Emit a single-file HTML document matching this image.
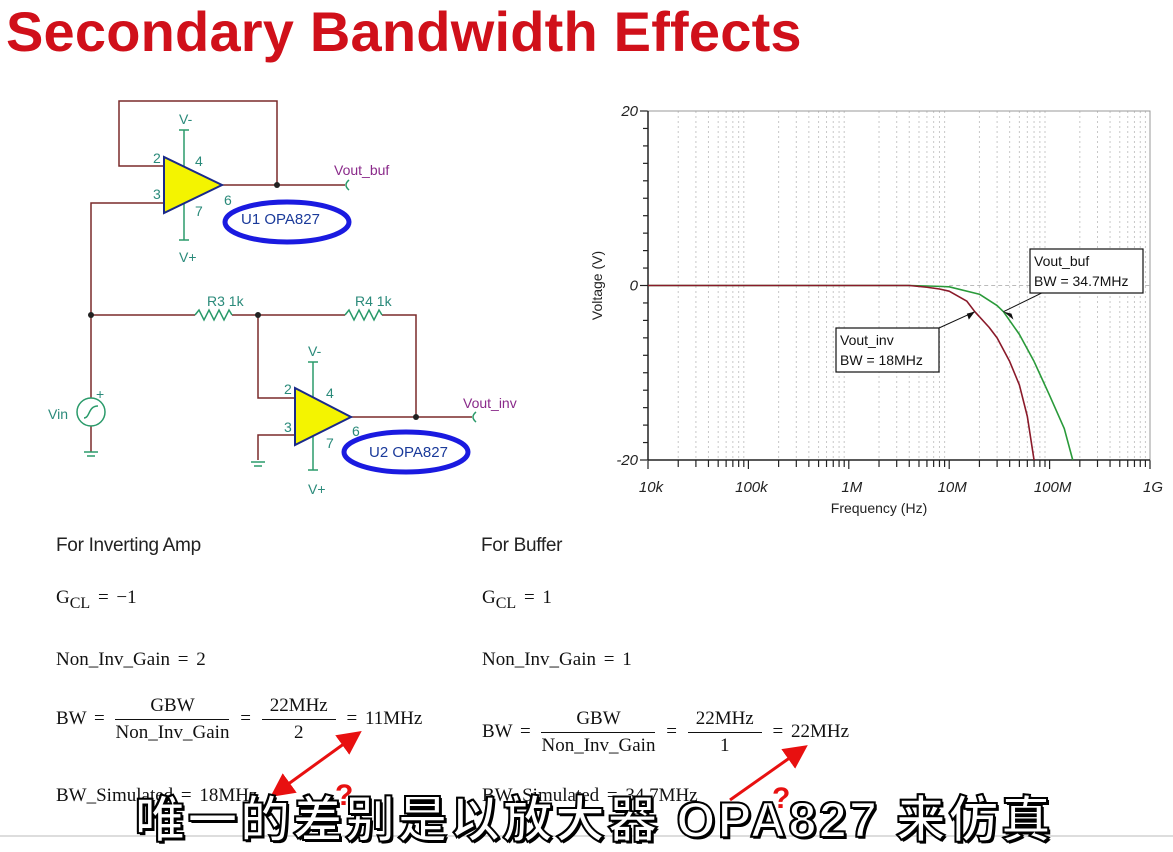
<!DOCTYPE html>
<html><head><meta charset="utf-8"><style>
body{margin:0;width:1173px;height:845px;background:#fff;overflow:hidden;position:relative;font-family:"Liberation Sans",sans-serif}
.a{position:absolute;white-space:nowrap}
.s{font-family:"Liberation Serif",serif;font-size:19px;color:#111;word-spacing:3px}
.fr{display:inline-block;vertical-align:middle;text-align:center;margin:0 3px}
.fr .n{border-bottom:1.5px solid #111;padding:0 8px 2px}
.fr .d{padding-top:2px}
</style></head><body>
<div class="a" style="left:6px;top:-1px;font-size:56px;font-weight:bold;color:#d0101a;letter-spacing:0.2px">Secondary Bandwidth Effects</div>

<svg class="a" style="left:0;top:0" width="590" height="520">
<g stroke="#7a2a2a" stroke-width="1.5" fill="none">
<polyline points="164,166 119,166 119,101 277,101 277,185"/>
<line x1="222" y1="185" x2="345" y2="185"/>
<polyline points="164,203 91,203 91,398"/>
<line x1="91" y1="426" x2="91" y2="452"/>
<line x1="91" y1="315" x2="195" y2="315"/>
<line x1="232" y1="315" x2="345" y2="315"/>
<polyline points="382,315 416,315 416,417"/>
<polyline points="258,315 258,398 295,398"/>
<polyline points="295,435 258,435 258,460"/>
<line x1="351" y1="417" x2="472" y2="417"/>
</g>
<g stroke="#2a9a6a" stroke-width="1.5" fill="none">
<line x1="184" y1="130" x2="184" y2="240"/><line x1="179" y1="130" x2="189" y2="130"/><line x1="179" y1="240" x2="189" y2="240"/>
<line x1="313" y1="362" x2="313" y2="470"/><line x1="308" y1="362" x2="318" y2="362"/><line x1="308" y1="470" x2="318" y2="470"/>
<polyline points="195,315 199,310 204,320 209,310 214,320 219,310 224,320 229,310 232,315"/>
<polyline points="345,315 349,310 354,320 359,310 364,320 369,310 374,320 379,310 382,315"/>
<line x1="84" y1="452" x2="98" y2="452"/><line x1="87" y1="456" x2="95" y2="456"/>
<line x1="251" y1="462" x2="265" y2="462"/><line x1="254" y1="466" x2="262" y2="466"/>
<circle cx="91" cy="412" r="14"/><path d="M84,418 C90,418 88,406 98,406"/>
<path d="M349,180 Q343,185 349,190"/><path d="M476,412 Q470,417 476,422"/>
</g>
<polygon points="164,157 164,213 222,185" fill="#f4f400" stroke="#1a2a8a" stroke-width="2"/>
<polygon points="295,388 295,445 351,417" fill="#f4f400" stroke="#1a2a8a" stroke-width="2"/>
<circle cx="277" cy="185" r="3" fill="#222"/><circle cx="91" cy="315" r="3" fill="#222"/><circle cx="258" cy="315" r="3" fill="#222"/><circle cx="416" cy="417" r="3" fill="#222"/>
<ellipse cx="287" cy="222" rx="62" ry="20" fill="none" stroke="#1a1ae0" stroke-width="5"/>
<ellipse cx="406" cy="452" rx="62" ry="20" fill="none" stroke="#1a1ae0" stroke-width="5"/>
<g font-family="Liberation Sans" font-size="14" fill="#2a8a7a">
<text x="179" y="124">V-</text><text x="179" y="262">V+</text><text x="153" y="163">2</text><text x="195" y="166">4</text><text x="153" y="199">3</text><text x="195" y="216">7</text><text x="224" y="205">6</text>
<text x="308" y="356">V-</text><text x="308" y="494">V+</text><text x="284" y="394">2</text><text x="326" y="398">4</text><text x="284" y="432">3</text><text x="326" y="448">7</text><text x="352" y="436">6</text>
<text x="207" y="306">R3 1k</text><text x="355" y="306">R4 1k</text><text x="48" y="419">Vin</text><text x="96" y="399">+</text>
<text x="241" y="224" fill="#1a3a9a" font-size="15">U1 OPA827</text><text x="369" y="457" fill="#1a3a9a" font-size="15">U2 OPA827</text>
</g>
<text x="334" y="175" font-family="Liberation Sans" font-size="14" fill="#8a2a8a">Vout_buf</text>
<text x="463" y="408" font-family="Liberation Sans" font-size="14" fill="#8a2a8a">Vout_inv</text>
</svg>

<svg id="chart" class="a" style="left:0;top:0" width="1173" height="530"></svg>

<div class="a" style="left:56px;top:535px;font-size:19px;color:#222;letter-spacing:-0.3px">For Inverting Amp</div>
<div class="a" style="left:481px;top:535px;font-size:19px;color:#222;letter-spacing:-0.3px">For Buffer</div>
<div class="a s" style="left:56px;top:587px">G<sub style="font-size:16px">CL</sub> = −1</div>
<div class="a s" style="left:482px;top:587px">G<sub style="font-size:16px">CL</sub> = 1</div>
<div class="a s" style="left:56px;top:649px">Non_Inv_Gain = 2</div>
<div class="a s" style="left:482px;top:649px">Non_Inv_Gain = 1</div>
<div class="a s" style="left:56px;top:695px">BW = <span class="fr"><div class="n">GBW</div><div class="d">Non_Inv_Gain</div></span> = <span class="fr"><div class="n">22MHz</div><div class="d">2</div></span> = 11MHz</div>
<div class="a s" style="left:482px;top:708px">BW = <span class="fr"><div class="n">GBW</div><div class="d">Non_Inv_Gain</div></span> = <span class="fr"><div class="n">22MHz</div><div class="d">1</div></span> = 22MHz</div>
<div class="a s" style="left:56px;top:785px">BW_Simulated = 18MHz</div>
<div class="a s" style="left:482px;top:785px">BW_Simulated = 34.7MHz</div>
<svg class="a" style="left:0;top:0" width="1173" height="845">
<defs><marker id="ah" markerWidth="8" markerHeight="8" refX="4" refY="4" orient="auto-start-reverse"><path d="M0,0 L8,4 L0,8z" fill="#e81010"/></marker></defs>
<line x1="352" y1="738" x2="280" y2="790" stroke="#e81010" stroke-width="3" marker-start="url(#ah)" marker-end="url(#ah)"/>
<line x1="798" y1="752" x2="730" y2="800" stroke="#e81010" stroke-width="3" marker-start="url(#ah)"/>
<text x="335" y="805" font-size="30" font-weight="bold" fill="#e81010" font-family="Liberation Sans">?</text>
<text x="772" y="808" font-size="30" font-weight="bold" fill="#e81010" font-family="Liberation Sans">?</text>
<line x1="0" y1="836" x2="1173" y2="836" stroke="#bbb" stroke-width="1"/>
</svg>
<div class="a" style="left:135px;top:780px;font-family:'Liberation Sans','Noto Sans CJK SC',sans-serif;font-size:50px;font-weight:bold;letter-spacing:2.5px;color:#fff;-webkit-text-stroke:2px #000;text-shadow:2px 2px 0 #000,-1px -1px 0 #000">唯一的差别是以放大器 OPA827 来仿真</div>

<script>
const freqInv=[1e4,1e6,4e6,6e6,8e6,1e7,1.5e7,1.8e7,2.5e7,3e7,4e7,5e7,6e7,7e7];
const vInv=[0,0,0,-0.2,-0.4,-0.65,-1.8,-3,-4.8,-6,-8.7,-11.4,-15,-20];
const freqBuf=[1e4,1e6,4e6,8e6,1e7,2e7,3e7,3.47e7,5e7,7e7,1e8,1.4e8,1.7e8];
const vBuf=[0,0,0,-0.1,-0.15,-1,-2.3,-3,-5.6,-8.7,-12.6,-16.4,-20];
const xTicks=["10k","100k","1M","10M","100M","1G"];
const yTicks=[20,0,-20];
const svg=document.getElementById('chart');const NS='http://www.w3.org/2000/svg';
const L=648,R=1150,T=111,B=460;
const x=f=>L+(Math.log10(f)-4)/5*(R-L);
const y=v=>T+(20-v)/40*(B-T);
function el(t,a,p){const e=document.createElementNS(NS,t);for(const k in a)e.setAttribute(k,a[k]);(p||svg).appendChild(e);return e;}
const grid=el('g',{stroke:'#c8c8c8','stroke-width':1,'stroke-dasharray':'2,3'});


const ticks=el('g',{stroke:'#222','stroke-width':1.2});
for(let d=4;d<9;d++)for(let m=1;m<10;m++){const f=m*Math.pow(10,d);const xx=x(f);
 if(m>1)el('line',{x1:xx,y1:T,x2:xx,y2:B},grid);
 el('line',{x1:xx,y1:B,x2:xx,y2:B+(m==1?9:7)},ticks);}
el('line',{x1:R,y1:B,x2:R,y2:B+9},ticks);
el('line',{x1:x(1e7),y1:y(0),x2:R,y2:y(0),stroke:'#bbb','stroke-dasharray':'4,3'});
for(let v=-20;v<=20;v+=2)el('line',{x1:L-(v%20==0?8:5),y1:y(v),x2:L,y2:y(v)},ticks);
el('rect',{x:L,y:T,width:R-L,height:B-T,fill:'none',stroke:'#999'});
el('line',{x1:L,y1:T,x2:L,y2:B,stroke:'#222','stroke-width':1.5});
el('line',{x1:L,y1:B,x2:R,y2:B,stroke:'#222','stroke-width':1.5});
xTicks.forEach((t,i)=>{const e=el('text',{x:x(Math.pow(10,4+i))+3,y:B+32,'text-anchor':'middle','font-size':15,'font-style':'italic',fill:'#222','font-family':'Liberation Sans'});e.textContent=t;
 
 });
yTicks.forEach(v=>{const e=el('text',{x:L-10,y:y(v)+5,'text-anchor':'end','font-size':15,'font-style':'italic',fill:'#222','font-family':'Liberation Sans'});e.textContent=v;
 
 });
let t=el('text',{x:(L+R)/2-20,y:B+53,'text-anchor':'middle','font-size':14,fill:'#222','font-family':'Liberation Sans'});t.textContent='Frequency (Hz)';


t=el('text',{x:0,y:0,'text-anchor':'middle','font-size':14,fill:'#222','font-family':'Liberation Sans',transform:`translate(602,${y(0)}) rotate(-90)`});t.textContent='Voltage (V)';


function line(fs,vs,c,n){const p=el('polyline',{points:fs.map((f,i)=>x(f)+','+y(vs[i])).join(' '),fill:'none',stroke:c,'stroke-width':1.6,'stroke-linejoin':'round'});
 
 }
line(freqBuf,vBuf,'#2a9a3a','vout-buf-line');
line(freqInv,vInv,'#8a1a2a','vout-inv-line');
function box(bx,by,w,l1,l2,ax,ay,n){const g=el('g',{});
 
 
 el('line',{x1:bx+(ax>bx+w?w:w*0.9),y1:by,x2:ax,y2:ay,stroke:'#111'},g);
 el('path',{d:`M${ax},${ay} l${ax>bx?-8:8},2 l2,6z`,fill:'#111'},g);
 el('rect',{x:bx,y:by,width:w,height:44,fill:'#fff',stroke:'#111','stroke-width':1.2},g);
 let a=el('text',{x:bx+4,y:by+17,'font-size':14,fill:'#111','font-family':'Liberation Sans'},g);a.textContent=l1;
 a=el('text',{x:bx+4,y:by+37,'font-size':14,fill:'#111','font-family':'Liberation Sans'},g);a.textContent=l2;}
box(836,328,103,'Vout_inv','BW = 18MHz',x(1.8e7),y(-3),'vout-inv-annotation');
box(1030,249,113,'Vout_buf','BW = 34.7MHz',x(3.47e7),y(-3),'vout-buf-annotation');
</script>
</body></html>
